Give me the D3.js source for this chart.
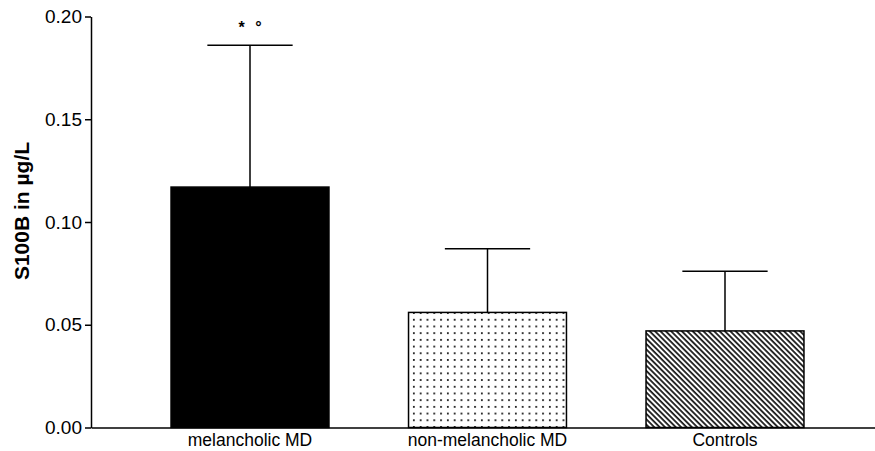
<!DOCTYPE html>
<html>
<head>
<meta charset="utf-8">
<script src="https://cdn.jsdelivr.net/npm/d3@7"></script>
<style>
  body { margin: 0; background: #fff; }
  text { font-family: "Liberation Sans", Arial, sans-serif; }
</style>
</head>
<body>
<div id="chart"></div>
<script>
// Chart size
const width = 875;
const height = 451;
const margin = {left: 91, right: -9, bottom: 23.5, top: 16.5};

// Data
const groups = ["melancholic MD", "non-melancholic MD", "Controls"];
const means = [0.117, 0.056, 0.047];
const sds = [0.069, 0.031, 0.029];
const fills = ["black", "url(#dots)", "url(#hatch)"];
const yTicks = [0.00, 0.05, 0.10, 0.15, 0.20];
const marks = ["*", "°"];

const svg = d3.select("#chart")
  .append("svg")
  .attr("width", width)
  .attr("height", height);

// Fill patterns
const defs = svg.append("defs");

const dots = defs.append("pattern")
  .attr("id", "dots")
  .attr("patternUnits", "userSpaceOnUse")
  .attr("width", 6.8)
  .attr("height", 6.7)
  .attr("x", 173)
  .attr("y", 2);
dots.append("rect").attr("width", 6.8).attr("height", 6.7).attr("fill", "white");
dots.append("rect").attr("x", 2).attr("y", 2).attr("width", 1.7).attr("height", 1.7).attr("fill", "black");

const hatch = defs.append("pattern")
  .attr("id", "hatch")
  .attr("patternUnits", "userSpaceOnUse")
  .attr("width", 3.8)
  .attr("height", 10)
  .attr("patternTransform", "rotate(-45)");
hatch.append("rect").attr("width", 3.8).attr("height", 10).attr("fill", "white");
hatch.append("line")
  .attr("x1", 1).attr("x2", 1).attr("y1", 0).attr("y2", 10)
  .attr("stroke", "black").attr("stroke-width", 1.6);

// Scales
const yScale = d3.scaleLinear()
  .domain([0, 0.2])
  .range([height - margin.bottom, margin.top]);

const xScale = d3.scaleBand()
  .domain(groups)
  .range([margin.left, width - margin.right])
  .paddingInner(0.335)
  .paddingOuter(0.337);

// Bars
svg.selectAll(".bar")
  .data(groups)
  .enter()
  .append("rect")
  .attr("class", "bar")
  .attr("x", d => xScale(d))
  .attr("y", (d, i) => yScale(means[i]))
  .attr("width", xScale.bandwidth())
  .attr("height", (d, i) => yScale(0) - yScale(means[i]))
  .attr("fill", (d, i) => fills[i])
  .attr("stroke", "black")
  .attr("stroke-width", 1.5);

// Error bars (upper only)
const capHalf = xScale.bandwidth() * 0.27;
const err = svg.append("g").attr("stroke", "black").attr("stroke-width", 1.5);
groups.forEach((g, i) => {
  const cx = xScale(g) + xScale.bandwidth() / 2;
  err.append("line")
    .attr("x1", cx).attr("x2", cx)
    .attr("y1", yScale(means[i])).attr("y2", yScale(means[i] + sds[i]));
  err.append("line")
    .attr("x1", cx - capHalf).attr("x2", cx + capHalf)
    .attr("y1", yScale(means[i] + sds[i])).attr("y2", yScale(means[i] + sds[i]));
});

// Significance marks above the first bar
const c0 = xScale(groups[0]) + xScale.bandwidth() / 2;
svg.selectAll(".mark")
  .data(marks)
  .enter()
  .append("text")
  .attr("class", "mark")
  .attr("x", (d, i) => c0 - 8.5 + i * 17)
  .attr("y", 33)
  .attr("text-anchor", "middle")
  .attr("font-size", "16px")
  .attr("font-weight", "bold")
  .text(d => d);

// Y axis
const yAxis = svg.append("g")
  .attr("transform", `translate(${margin.left}, 0)`)
  .call(d3.axisLeft(yScale).tickValues(yTicks).tickFormat(d3.format(".2f")).tickSize(6).tickSizeOuter(0));
yAxis.select(".domain").attr("stroke-width", 1.5);
yAxis.selectAll(".tick line").attr("stroke-width", 1.5);
yAxis.selectAll(".tick text")
  .attr("font-size", "19px")
  .attr("font-family", "'Liberation Sans', Arial, sans-serif")
  .attr("x", -9)
  .attr("fill", "black");

// X axis
const xAxis = svg.append("g")
  .attr("transform", `translate(0, ${yScale(0)})`)
  .call(d3.axisBottom(xScale).tickSize(0).tickSizeOuter(0));
xAxis.select(".domain").attr("stroke-width", 1.5);
xAxis.selectAll(".tick text")
  .attr("font-size", "17.5px")
  .attr("font-family", "'Liberation Sans', Arial, sans-serif")
  .attr("dy", "1.05em")
  .attr("y", 0)
  .attr("fill", "black");

// Y axis title
svg.append("text")
  .attr("transform", "translate(29, 211) rotate(-90)")
  .attr("text-anchor", "middle")
  .attr("font-size", "21px")
  .attr("font-weight", "bold")
  .text("S100B in µg/L");
</script>
</body>
</html>
